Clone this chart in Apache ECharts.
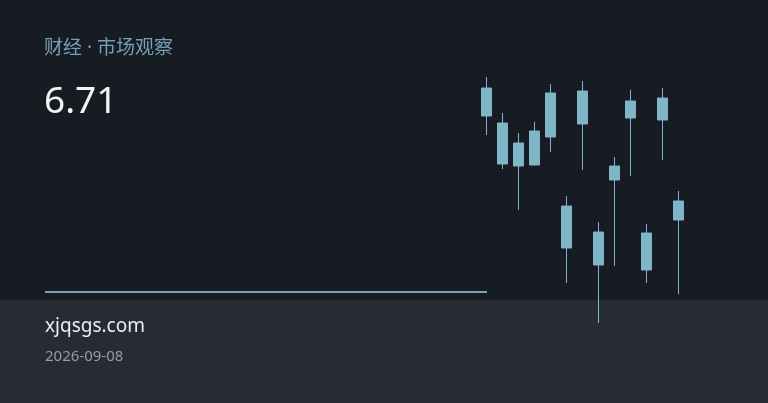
<!DOCTYPE html>
<html>
<head>
<meta charset="utf-8">
<script src="https://cdn.jsdelivr.net/npm/echarts@6/dist/echarts.min.js"></script>
<style>
html,body{margin:0;padding:0;background:#171b22;}
#chart{width:768px;height:403px;}
</style>
</head>
<body>
<div id="chart"></div>
<script>
// Data
const categories = ['1','2','3','4','5','6','7','8','9','10','11','12','13'];
// [open, close, low, high]
const opens  = [2.42, 2.07, 1.87, 1.99, 2.37, 1.24, 2.39, 0.98, 1.64, 2.29, 0.97, 2.32, 1.29];
const closes = [2.14, 1.66, 1.64, 1.65, 1.93, 0.82, 2.06, 0.65, 1.50, 2.12, 0.60, 2.10, 1.10];
const lows   = [1.95, 1.61, 1.20, 1.65, 1.78, 0.47, 1.60, 0.07, 0.64, 1.54, 0.47, 1.70, 0.36];
const highs  = [2.53, 2.17, 1.97, 2.08, 2.46, 1.34, 2.49, 1.08, 1.73, 2.40, 1.06, 2.42, 1.39];
const titleText = '财经 · 市场观察';
const valueText = '6.71';
const siteText = 'xjqsgs.com';
const dateText = '2026-09-08';

const kdata = categories.map((c, i) => [opens[i], closes[i], lows[i], highs[i]]);

const chart = echarts.init(document.getElementById('chart'), null, {renderer: 'canvas'});
const candleColor = '#7fb5c8';
chart.setOption({
  backgroundColor: '#171b22',
  animation: false,
  grid: {left: 478.7, top: 70, width: 208, height: 260},
  xAxis: {
    type: 'category', data: categories, boundaryGap: true,
    show: false
  },
  yAxis: {
    type: 'value', min: 0, max: 2.6, show: false, splitLine: {show: false}
  },
  graphic: [
    {type: 'rect', silent: true, z: -10, shape: {x: 0, y: 300, width: 768, height: 103}, style: {fill: '#272b34'}},
    {type: 'rect', silent: true, z: 1, shape: {x: 45, y: 291, width: 442, height: 2}, style: {fill: '#6fa8b8'}},
    {type: 'text', silent: true, left: 44, top: 39, style: {text: titleText, fill: '#6fa3b6', font: '19px "Noto Sans", "Noto Sans CJK SC", sans-serif'}},
    {type: 'text', silent: true, left: 44, top: 84, style: {text: valueText, fill: '#f2f4f6', font: '37px "Noto Sans", "Open Sans", sans-serif'}},
    {type: 'text', silent: true, left: 45, top: 317, style: {text: siteText, fill: '#eceef1', font: '19px "Noto Sans", "Open Sans", sans-serif'}},
    {type: 'text', silent: true, left: 45, top: 349, style: {text: dateText, fill: '#979da6', font: '15px "Noto Sans", "Open Sans", sans-serif'}}
  ],
  series: [{
    type: 'candlestick',
    data: kdata,
    barWidth: 10,
    itemStyle: {
      color: candleColor, color0: candleColor,
      borderColor: candleColor, borderColor0: candleColor,
      borderWidth: 1
    }
  }]
});
</script>
</body>
</html>
